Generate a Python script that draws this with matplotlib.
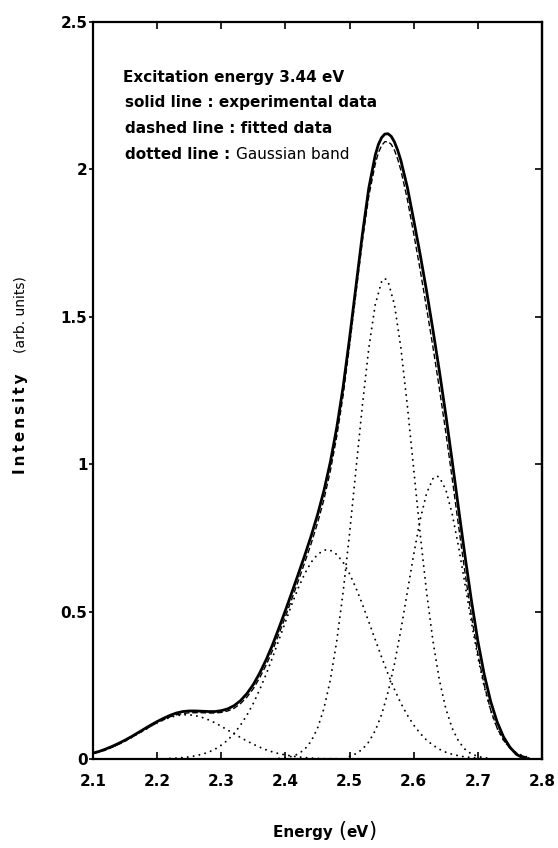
import matplotlib
matplotlib.use("Agg")
import matplotlib.pyplot as plt

# ---------------- data ----------------
exp_energy = [2.10, 2.11, 2.12, 2.13, 2.14, 2.15, 2.16, 2.17, 2.18, 2.19,
              2.20, 2.21, 2.22, 2.23, 2.24, 2.25, 2.26, 2.27, 2.28, 2.29,
              2.30, 2.31, 2.32, 2.33, 2.34, 2.35, 2.36, 2.37, 2.38, 2.39,
              2.40, 2.41, 2.42, 2.43, 2.44, 2.45, 2.46, 2.47, 2.48, 2.49,
              2.50, 2.51, 2.52, 2.53, 2.54, 2.545, 2.55, 2.555, 2.56, 2.565,
              2.57, 2.575, 2.58, 2.59, 2.60, 2.61, 2.62, 2.63, 2.64, 2.65,
              2.66, 2.67, 2.68, 2.69, 2.70, 2.71, 2.72, 2.73, 2.74, 2.75,
              2.76, 2.77, 2.78]
exp_intensity = [0.020, 0.026, 0.034, 0.043, 0.053, 0.064, 0.076, 0.089, 0.102, 0.115,
                 0.127, 0.138, 0.148, 0.156, 0.161, 0.163, 0.163, 0.162, 0.161, 0.161,
                 0.164, 0.170, 0.181, 0.198, 0.222, 0.253, 0.292, 0.337, 0.388, 0.445,
                 0.504, 0.565, 0.627, 0.690, 0.756, 0.828, 0.910, 1.007, 1.124, 1.263,
                 1.428, 1.604, 1.780, 1.937, 2.048, 2.085, 2.108, 2.120, 2.121, 2.112,
                 2.093, 2.065, 2.030, 1.940, 1.828, 1.712, 1.588, 1.455, 1.316, 1.168,
                 1.010, 0.848, 0.688, 0.537, 0.400, 0.286, 0.195, 0.126, 0.075, 0.040,
                 0.016, 0.004, 0.000]

fit_energy = exp_energy
fit_intensity = [0.018, 0.024, 0.031, 0.040, 0.050, 0.061, 0.073, 0.086, 0.098, 0.111,
                 0.123, 0.133, 0.143, 0.150, 0.154, 0.157, 0.157, 0.157, 0.156, 0.156,
                 0.158, 0.163, 0.172, 0.188, 0.210, 0.239, 0.276, 0.319, 0.369, 0.425,
                 0.483, 0.543, 0.604, 0.666, 0.730, 0.800, 0.880, 0.977, 1.094, 1.234,
                 1.403, 1.581, 1.758, 1.910, 2.018, 2.057, 2.081, 2.094, 2.094, 2.085,
                 2.065, 2.035, 1.997, 1.899, 1.782, 1.660, 1.530, 1.397, 1.257, 1.108,
                 0.951, 0.789, 0.631, 0.485, 0.356, 0.250, 0.166, 0.105, 0.064, 0.037,
                 0.020, 0.010, 0.004]

band1_energy = [2.10, 2.11, 2.12, 2.13, 2.14, 2.15, 2.16, 2.17, 2.18, 2.19,
                2.20, 2.21, 2.22, 2.23, 2.24, 2.25, 2.26, 2.27, 2.28, 2.29,
                2.30, 2.31, 2.32, 2.33, 2.34, 2.35, 2.36, 2.37, 2.38, 2.39,
                2.40, 2.41, 2.42, 2.43, 2.44, 2.45, 2.46, 2.47, 2.48]
band1_intensity = [0.018, 0.024, 0.031, 0.040, 0.050, 0.061, 0.073, 0.086, 0.098, 0.111,
                   0.123, 0.133, 0.141, 0.147, 0.150, 0.150, 0.147, 0.141, 0.133, 0.123,
                   0.111, 0.098, 0.086, 0.073, 0.061, 0.050, 0.040, 0.031, 0.024, 0.018,
                   0.014, 0.010, 0.007, 0.005, 0.003, 0.002, 0.001, 0.001, 0.001]

band2_energy = [2.22, 2.23, 2.24, 2.25, 2.26, 2.27, 2.28, 2.29, 2.30, 2.31,
                2.32, 2.33, 2.34, 2.35, 2.36, 2.37, 2.38, 2.39, 2.40, 2.41,
                2.42, 2.43, 2.44, 2.45, 2.46, 2.465, 2.47, 2.48, 2.49, 2.50,
                2.51, 2.52, 2.53, 2.54, 2.55, 2.56, 2.57, 2.58, 2.59, 2.60,
                2.61, 2.62, 2.63, 2.64, 2.65, 2.66, 2.67, 2.68, 2.69, 2.70, 2.71]
band2_intensity = [0.002, 0.003, 0.005, 0.007, 0.011, 0.016, 0.023, 0.033, 0.047, 0.064,
                   0.087, 0.115, 0.149, 0.189, 0.236, 0.288, 0.345, 0.405, 0.465, 0.525,
                   0.580, 0.628, 0.667, 0.694, 0.708, 0.710, 0.708, 0.694, 0.667, 0.628,
                   0.580, 0.525, 0.465, 0.405, 0.345, 0.288, 0.236, 0.189, 0.149, 0.115,
                   0.087, 0.064, 0.047, 0.033, 0.023, 0.016, 0.011, 0.007, 0.005, 0.003, 0.002]

band3_energy = [2.39, 2.40, 2.41, 2.42, 2.43, 2.44, 2.45, 2.46, 2.47, 2.48,
                2.49, 2.50, 2.51, 2.52, 2.53, 2.54, 2.55, 2.555, 2.56, 2.57,
                2.58, 2.59, 2.60, 2.61, 2.62, 2.63, 2.64, 2.65, 2.66, 2.67,
                2.68, 2.69, 2.70, 2.71, 2.72]
band3_intensity = [0.002, 0.004, 0.009, 0.017, 0.033, 0.060, 0.104, 0.171, 0.268, 0.400,
                   0.567, 0.765, 0.983, 1.200, 1.394, 1.541, 1.620, 1.630, 1.620, 1.541,
                   1.394, 1.200, 0.983, 0.765, 0.567, 0.400, 0.268, 0.171, 0.104, 0.060,
                   0.033, 0.017, 0.009, 0.004, 0.002]

band4_energy = [2.50, 2.51, 2.52, 2.53, 2.54, 2.55, 2.56, 2.57, 2.58, 2.59,
                2.60, 2.61, 2.62, 2.63, 2.636, 2.64, 2.65, 2.66, 2.67, 2.68,
                2.69, 2.70, 2.71, 2.72, 2.73, 2.74, 2.75, 2.76, 2.77, 2.78]
band4_intensity = [0.009, 0.018, 0.033, 0.058, 0.096, 0.151, 0.227, 0.323, 0.438, 0.566,
                   0.694, 0.811, 0.901, 0.951, 0.960, 0.956, 0.914, 0.831, 0.719, 0.592,
                   0.463, 0.345, 0.244, 0.165, 0.105, 0.064, 0.037, 0.021, 0.011, 0.005]

x_ticks = [2.1, 2.2, 2.3, 2.4, 2.5, 2.6, 2.7, 2.8]
x_tick_labels = ["2.1", "2.2", "2.3", "2.4", "2.5", "2.6", "2.7", "2.8"]
y_ticks = [0, 0.5, 1, 1.5, 2, 2.5]
y_tick_labels = ["0", "0.5", "1", "1.5", "2", "2.5"]

notes = ["Excitation energy 3.44 eV",
         "solid line : experimental data",
         "dashed line : fitted data",
         "dotted line : "]
note_extra = "Gaussian band"

# ---------------- figure ----------------
plt.rcParams['font.family'] = ['DejaVu Sans']
W, H = 558, 848
fig = plt.figure(figsize=(W / 100, H / 100), dpi=100)
L, R, T, B = 93, 542, 22, 759
ax = fig.add_axes([L / W, 1 - B / H, (R - L) / W, (B - T) / H])

dot_style = dict(color="black", lw=1.4, linestyle=(0, (0.05, 3.0)),
                 dash_capstyle="round")
for ex, iy in [(band1_energy, band1_intensity), (band2_energy, band2_intensity),
               (band3_energy, band3_intensity), (band4_energy, band4_intensity)]:
    ax.plot(ex, iy, **dot_style)

ax.plot(fit_energy, fit_intensity, color="black", lw=1.0, linestyle=(0, (4, 2)))
ax.plot(exp_energy, exp_intensity, color="black", lw=2.0, solid_capstyle="round")

ax.set_xlim(2.1, 2.8)
ax.set_ylim(0, 2.5)
ax.set_xticks(x_ticks)
ax.set_xticklabels(x_tick_labels, fontsize=11, fontweight="bold")
ax.set_yticks(y_ticks)
ax.set_yticklabels(y_tick_labels, fontsize=11, fontweight="bold")
ax.tick_params(axis="x", direction="in", length=5, width=1.2, top=True, pad=11)
ax.tick_params(axis="y", direction="out", length=3, width=1.2, pad=1)
for sp in ax.spines.values():
    sp.set_linewidth(1.6)

sec = ax.secondary_yaxis("right")
sec.set_yticks(y_ticks)
sec.set_yticklabels([])
sec.tick_params(direction="in", length=5, width=1.2)
sec.spines["right"].set_linewidth(1.6)

# annotation lines
note_y = [2.297, 2.212, 2.124, 2.036]
note_x = [2.147, 2.150, 2.150, 2.150]
last = None
for txt, xx, yy in zip(notes, note_x, note_y):
    last = ax.text(xx, yy, txt, fontsize=11, fontweight="bold", ha="left", va="baseline")
ax.annotate(note_extra, xy=(1, 0), xycoords=last, ha="left", va="bottom",
            fontsize=11, fontweight="normal")

# axis labels
fig.text(21 / W, 1 - 424 / H, "I\u2009n\u2009t\u2009e\u2009n\u2009s\u2009i\u2009t\u2009y",
         rotation=90, ha="center", va="center", fontsize=11, fontweight="bold")
fig.text(21 / W, 1 - 315 / H, "(arb. units)", rotation=90, ha="center", va="center",
         fontsize=10)

# x label: "Energy (eV)" with tall parentheses
pieces = [("Energy ", 11, "bold"), ("(", 15, "normal"), ("eV", 11, "bold"), (")", 15, "normal")]
objs = []
for s, fs, fw in pieces:
    t = fig.text(0, 0, s, ha="left", va="baseline", fontsize=fs, fontweight=fw)
    objs.append(t)
fig.canvas.draw()
r = fig.canvas.get_renderer()
widths = [o.get_window_extent(r).width for o in objs]
total = sum(widths)
x0 = 325 - total / 2
base_y = 1 - 837 / H
xpos = x0
for o, w in zip(objs, widths):
    o.set_position((xpos / W, base_y))
    xpos += w

fig.savefig("out.png", dpi=100)
